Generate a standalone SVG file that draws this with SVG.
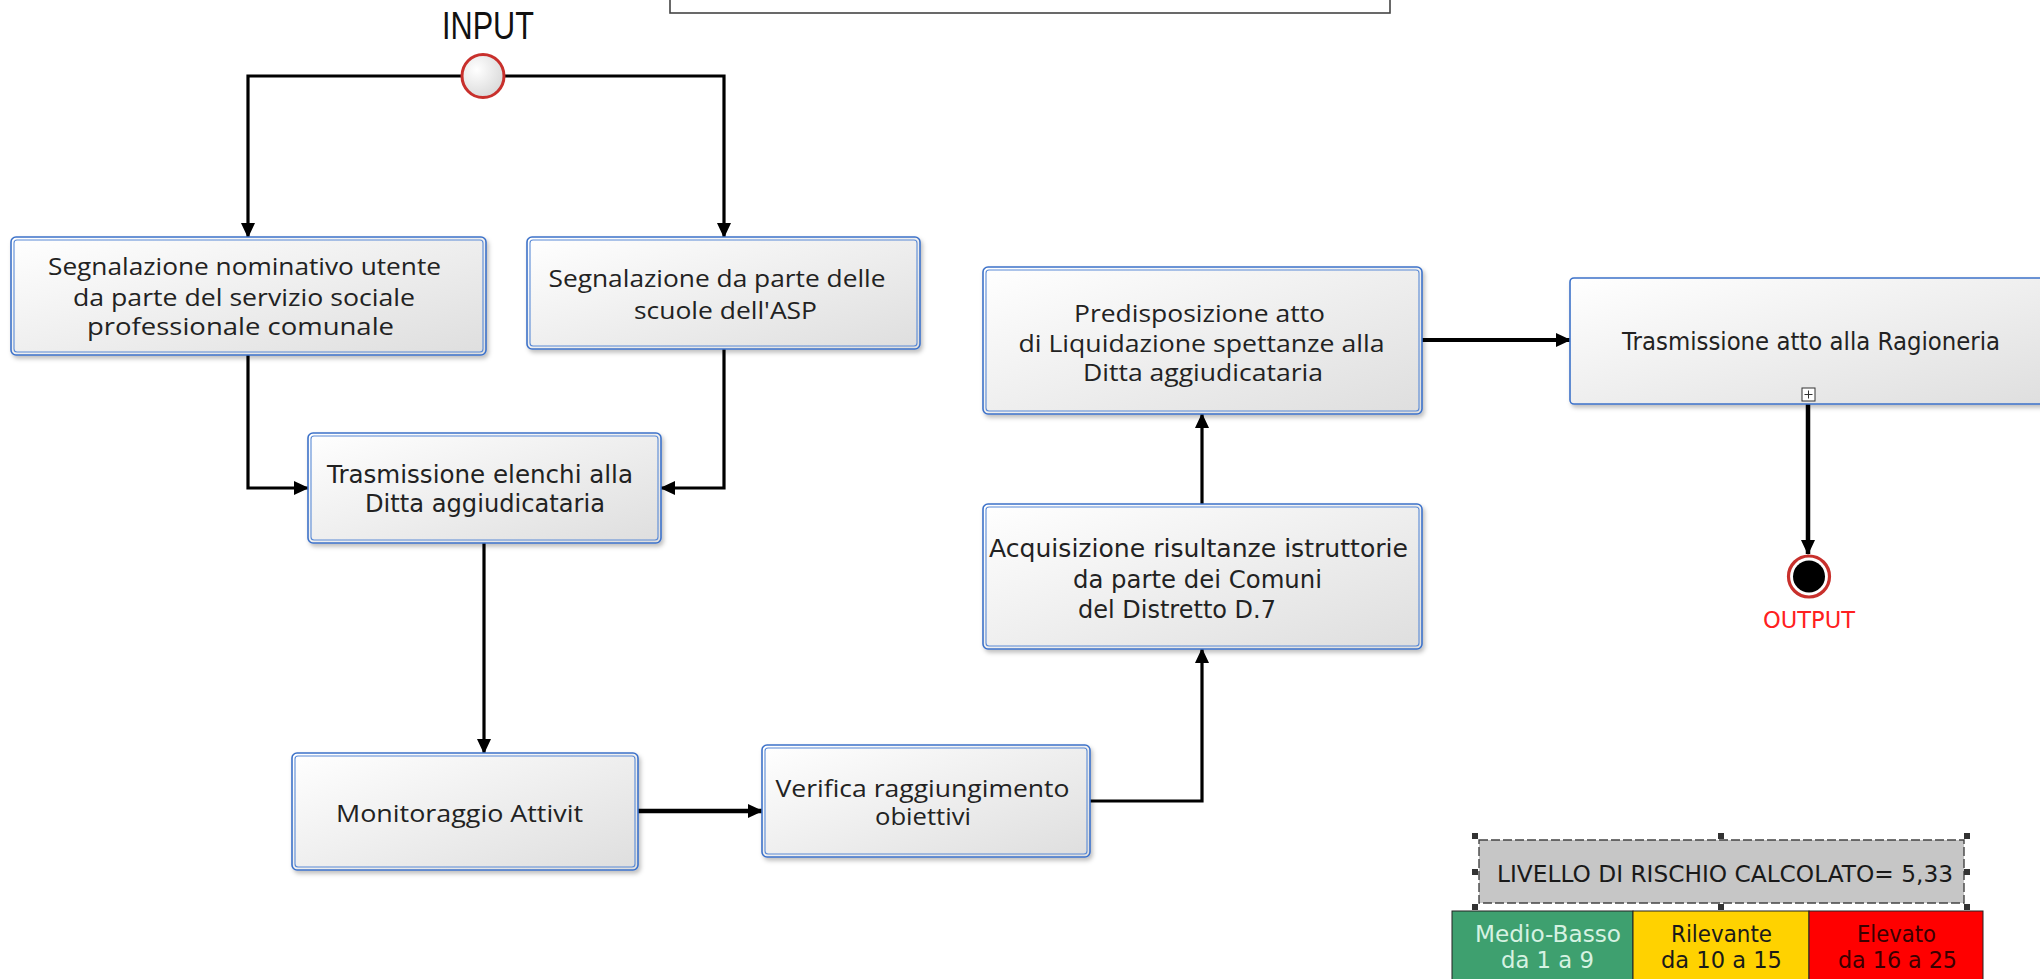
<svg xmlns="http://www.w3.org/2000/svg" width="2040" height="979" viewBox="0 0 2040 979">
<style>
.bx{fill:url(#g);stroke:#3d72c9;stroke-width:1.6;filter:url(#sh)}
.bi{fill:none;stroke:#5a8ad6;stroke-width:1.1}
.t1{font-family:"Open Sans","DejaVu Sans",sans-serif;font-size:23px;fill:#222}
.t2{font-family:"DejaVu Sans","Liberation Sans",sans-serif;font-size:24px;fill:#222}
.cn{fill:none;stroke:#000;stroke-width:3.2;marker-end:url(#ah)}
.tt{font-family:"DejaVu Sans","Liberation Sans",sans-serif;font-size:23px}
</style>
<defs>
<linearGradient id="g" x1="0" y1="0" x2="1" y2="1">
<stop offset="0" stop-color="#ffffff"/><stop offset="1" stop-color="#dedede"/>
</linearGradient>
<radialGradient id="cg" cx="0.35" cy="0.35" r="0.8">
<stop offset="0" stop-color="#ffffff"/><stop offset="1" stop-color="#d4d4d4"/>
</radialGradient>
<filter id="sh" x="-5%" y="-5%" width="115%" height="120%">
<feDropShadow dx="2" dy="3" stdDeviation="2" flood-color="#000" flood-opacity="0.25"/>
</filter>
<marker id="ah" viewBox="0 0 15 14" refX="14" refY="7" markerWidth="15" markerHeight="14" markerUnits="userSpaceOnUse" orient="auto">
<path d="M0,0 L15,7 L0,14 z" fill="#000"/>
</marker>
</defs>
<rect width="2040" height="979" fill="#fff"/>

<g id="top-frame">
<rect x="670" y="-40" width="720" height="53" fill="#fff" stroke="#444" stroke-width="1.6"/>
</g>

<g id="connectors">
<path class="cn" d="M483,76 H248 V237"/>
<path class="cn" d="M483,76 H724 V237"/>
<path class="cn" d="M248,355 V488 H308"/>
<path class="cn" d="M724,349 V488 H661"/>
<path class="cn" d="M484,543 V753"/>
<path class="cn" style="stroke-width:4.5" d="M638,811 H762"/>
<path class="cn" d="M1090,801 H1202 V649"/>
<path class="cn" d="M1202,504 V414"/>
<path class="cn" style="stroke-width:4" d="M1422,340 H1570"/>
<path class="cn" style="stroke-width:4.5" d="M1808,404 V554"/>
</g>

<g id="input">
<text x="442" y="39" font-family="Liberation Sans,Arial,sans-serif" font-size="39" textLength="92" lengthAdjust="spacingAndGlyphs" fill="#111">INPUT</text>
<ellipse cx="483" cy="76" rx="21" ry="21.5" fill="url(#cg)" stroke="#c8302c" stroke-width="3"/>
</g>

<g id="n1">
<rect class="bx" x="11" y="237" width="475" height="118" rx="5"/>
<rect class="bi" x="14" y="240" width="469" height="112" rx="3"/>
<text class="t1" x="48" y="275" textLength="393" lengthAdjust="spacingAndGlyphs">Segnalazione nominativo utente</text>
<text class="t1" x="73" y="306" textLength="342" lengthAdjust="spacingAndGlyphs">da parte del servizio sociale</text>
<text class="t1" x="87" y="335" textLength="307" lengthAdjust="spacingAndGlyphs">professionale comunale</text>
</g>

<g id="n2">
<rect class="bx" x="527" y="237" width="393" height="112" rx="5"/>
<rect class="bi" x="530" y="240" width="387" height="106" rx="3"/>
<text class="t1" x="548.5" y="287" textLength="337" lengthAdjust="spacingAndGlyphs">Segnalazione da parte delle</text>
<text class="t1" x="634" y="319" textLength="183" lengthAdjust="spacingAndGlyphs">scuole dell'ASP</text>
</g>

<g id="n3">
<rect class="bx" x="308" y="433" width="353" height="110" rx="5"/>
<rect class="bi" x="311" y="436" width="347" height="104" rx="3"/>
<text class="t2" x="327" y="483" textLength="306" lengthAdjust="spacingAndGlyphs">Trasmissione elenchi alla</text>
<text class="t2" x="365" y="512" textLength="240" lengthAdjust="spacingAndGlyphs">Ditta aggiudicataria</text>
</g>

<g id="n4">
<rect class="bx" x="292" y="753" width="346" height="117" rx="5"/>
<rect class="bi" x="295" y="756" width="340" height="111" rx="3"/>
<text class="t1" x="336" y="822" textLength="247" lengthAdjust="spacingAndGlyphs">Monitoraggio Attivit</text>
</g>

<g id="n5">
<rect class="bx" x="762" y="745" width="328" height="112" rx="5"/>
<rect class="bi" x="765" y="748" width="322" height="106" rx="3"/>
<text class="t1" x="775.5" y="797" textLength="294" lengthAdjust="spacingAndGlyphs">Verifica raggiungimento</text>
<text class="t1" x="875" y="825" textLength="96" lengthAdjust="spacingAndGlyphs">obiettivi</text>
</g>

<g id="n6">
<rect class="bx" x="983" y="504" width="439" height="145" rx="5"/>
<rect class="bi" x="986" y="507" width="433" height="139" rx="3"/>
<text class="t2" x="989" y="557" textLength="419" lengthAdjust="spacingAndGlyphs">Acquisizione risultanze istruttorie</text>
<text class="t2" x="1073" y="588" textLength="249" lengthAdjust="spacingAndGlyphs">da parte dei Comuni</text>
<text class="t2" x="1078" y="618">del Distretto D.7</text>
</g>

<g id="n7">
<rect class="bx" x="983" y="267" width="439" height="147" rx="5"/>
<rect class="bi" x="986" y="270" width="433" height="141" rx="3"/>
<text class="t1" x="1074" y="322" textLength="251" lengthAdjust="spacingAndGlyphs">Predisposizione atto</text>
<text class="t1" x="1018.5" y="352" textLength="366" lengthAdjust="spacingAndGlyphs">di Liquidazione spettanze alla</text>
<text class="t1" x="1083" y="381" textLength="240" lengthAdjust="spacingAndGlyphs">Ditta aggiudicataria</text>
</g>

<g id="n8">
<rect class="bx" x="1570" y="278" width="500" height="126" rx="4"/>
<text class="t2" x="1622" y="350" textLength="378" lengthAdjust="spacingAndGlyphs">Trasmissione atto alla Ragioneria</text>
<rect x="1802" y="388" width="13" height="13" fill="#fff" stroke="#333" stroke-width="1"/>
<path d="M1808.5,390.5 V398.5 M1804.5,394.5 H1812.5" stroke="#333" stroke-width="1"/>
</g>

<g id="output">
<circle cx="1809" cy="576.5" r="20.5" fill="#fff" stroke="#c8302c" stroke-width="3.2"/>
<circle cx="1809" cy="576.5" r="16" fill="#000"/>
<text x="1809" y="628" text-anchor="middle" font-family="DejaVu Sans,Liberation Sans,sans-serif" font-size="23" textLength="92" lengthAdjust="spacingAndGlyphs" fill="#ff2020">OUTPUT</text>
</g>

<g id="risk">
<rect x="1479" y="840" width="485" height="63" fill="#c6c6c6" stroke="#444" stroke-width="1.4" stroke-dasharray="9,3"/>
<text class="tt" x="1497" y="882" textLength="456" lengthAdjust="spacingAndGlyphs" fill="#1a1a1a">LIVELLO DI RISCHIO CALCOLATO= 5,33</text>
<g fill="#333">
<rect x="1472" y="833" width="6" height="6"/><rect x="1718" y="833" width="6" height="6"/><rect x="1964" y="833" width="6" height="6"/>
<rect x="1472" y="869" width="6" height="6"/><rect x="1964" y="869" width="6" height="6"/>
<rect x="1472" y="904" width="6" height="6"/><rect x="1718" y="904" width="6" height="6"/><rect x="1964" y="904" width="6" height="6"/>
</g>
<rect x="1452" y="911" width="181" height="80" fill="#3ea06f" stroke="#222" stroke-width="1"/>
<rect x="1633" y="911" width="176" height="80" fill="#ffd200" stroke="#222" stroke-width="1"/>
<rect x="1809" y="911" width="174" height="80" fill="#ff0000" stroke="#222" stroke-width="1"/>
<text class="tt" x="1475" y="942" textLength="146" lengthAdjust="spacingAndGlyphs" fill="#d6f2e2">Medio-Basso</text>
<text class="tt" x="1501" y="968" textLength="93" lengthAdjust="spacingAndGlyphs" fill="#d6f2e2">da 1 a 9</text>
<text class="tt" x="1671" y="942" textLength="101" lengthAdjust="spacingAndGlyphs" fill="#1a1a1a">Rilevante</text>
<text class="tt" x="1661" y="968" textLength="121" lengthAdjust="spacingAndGlyphs" fill="#1a1a1a">da 10 a 15</text>
<text class="tt" x="1857" y="942" textLength="79" lengthAdjust="spacingAndGlyphs" fill="#3a0000">Elevato</text>
<text class="tt" x="1838" y="968" textLength="119" lengthAdjust="spacingAndGlyphs" fill="#3a0000">da 16 a 25</text>
</g>
</svg>
